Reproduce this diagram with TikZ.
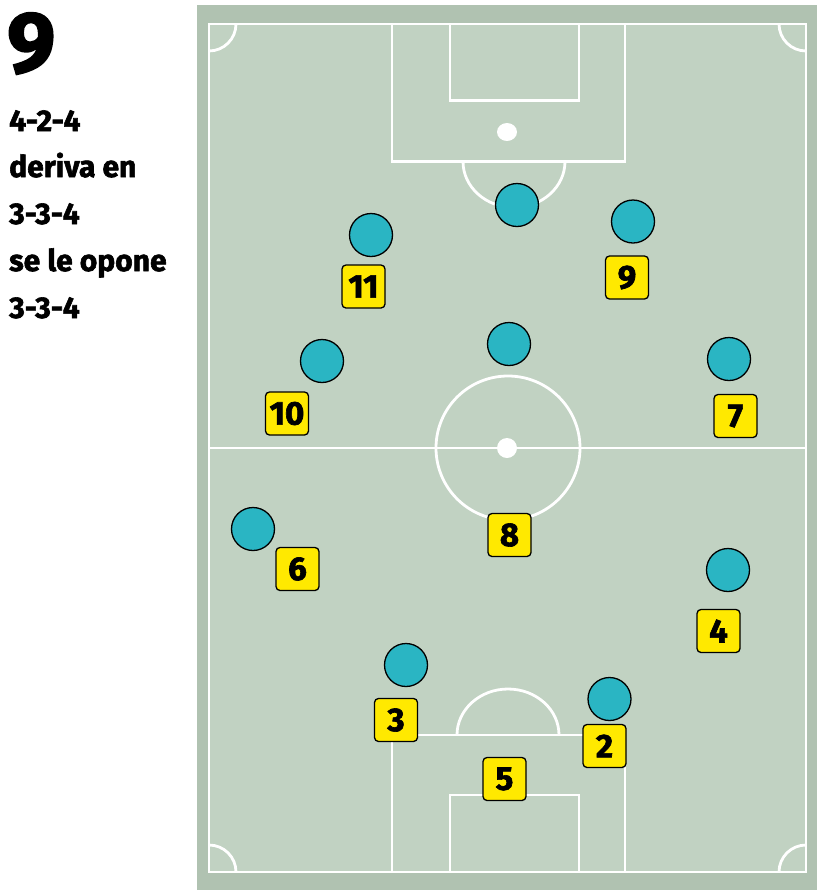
\documentclass[tikz,border=0pt]{standalone}
\usepackage{fontspec}
\setmainfont{Fira Sans}
\newfontfamily\heavyfont{Fira Sans}[BoldFont={* Bold},BoldFeatures={FakeBold=2}]
\definecolor{outerg}{HTML}{B0C2B1}
\definecolor{fieldg}{HTML}{C1D2C2}
\definecolor{pcyan}{HTML}{2AB5C3}
\definecolor{nyellow}{HTML}{FFE900}
\begin{document}
\begin{tikzpicture}[x=1pt,y=-1pt,
  pline/.style={white,line width=2.8pt},
  player/.style={circle,fill=pcyan,draw=black,line width=1.3pt,minimum size=43pt,inner sep=0pt},
  numbox/.style={rectangle,rounded corners=4pt,fill=nyellow,draw=black,line width=1.3pt,minimum width=43pt,minimum height=43pt,inner sep=0pt,font=\heavyfont\fontsize{33}{33}\selectfont\bfseries},
  lbl/.style={anchor=base west,inner sep=0pt,font=\heavyfont\fontsize{30}{30}\selectfont\bfseries}]
\useasboundingbox (0,0) rectangle (833,895);
\fill[white] (0,0) rectangle (833,895);
% pitch
\fill[outerg] (197,5) rectangle (817,890);
\fill[fieldg] (209,24) rectangle (806,872);
\draw[pline] (209,24) rectangle (806,872);
\draw[pline] (209,448) -- (806,448);
\draw[pline] (508,448) circle[radius=72];
\fill[white] (507,448) circle[radius=10];
% top area
\draw[pline] (392,24) rectangle (625,161.5);
\draw[pline] (450,24) rectangle (579,100.5);
\fill[white] (507,132) ellipse[x radius=10,y radius=9];
\draw[pline] (463,161.5) arc[start angle=180,end angle=0,x radius=51,y radius=46];
% bottom area
\draw[pline] (392,872) rectangle (625,735);
\draw[pline] (450,872) rectangle (579,795);
\draw[pline] (457,735) arc[start angle=180,end angle=360,x radius=51,y radius=46];
% corners
\draw[pline] (209,51) arc[start angle=90,end angle=0,radius=27];
\draw[pline] (779,24) arc[start angle=180,end angle=90,radius=27];
\draw[pline] (236,872) arc[start angle=0,end angle=-90,radius=27];
\draw[pline] (806,845) arc[start angle=270,end angle=180,radius=27];
% players
\node[player] (p1) at (517,205) {};
\node[player] (p2) at (633,221.5) {};
\node[player] (p3) at (371,235) {};
\node[player] (p4) at (509,344) {};
\node[player] (p5) at (729,359) {};
\node[player] (p6) at (322,361) {};
\node[player] (p7) at (253,529) {};
\node[player] (p8) at (728,570) {};
\node[player] (p9) at (406,665) {};
\node[player] (p10) at (609.5,699) {};
% numbers
\node[numbox] (n11) at (363.5,286.5) {11};
\node[numbox] (n9) at (627,277.5) {9};
\node[numbox] (n10) at (287,413.5) {10};
\node[numbox] (n7) at (735.5,416) {7};
\node[numbox] (n8) at (509.5,535) {8};
\node[numbox] (n6) at (297.5,569) {6};
\node[numbox] (n4) at (718.5,631) {4};
\node[numbox] (n3) at (396,720) {3};
\node[numbox] (n2) at (604.5,746) {2};
\node[numbox] (n5) at (504.5,779) {5};
% left text
\node[anchor=base west,inner sep=0pt,font=\heavyfont\fontsize{86}{86}\selectfont\bfseries] (big) at (7,72) {9};
\node[lbl] (t1) at (9,131) {4-2-4};
\node[lbl] (t2) at (9,177) {deriva en};
\node[lbl] (t3) at (9,224) {3-3-4};
\node[lbl] (t4) at (9,271) {se le opone};
\node[lbl] (t5) at (9,318) {3-3-4};
\end{tikzpicture}
\end{document}
